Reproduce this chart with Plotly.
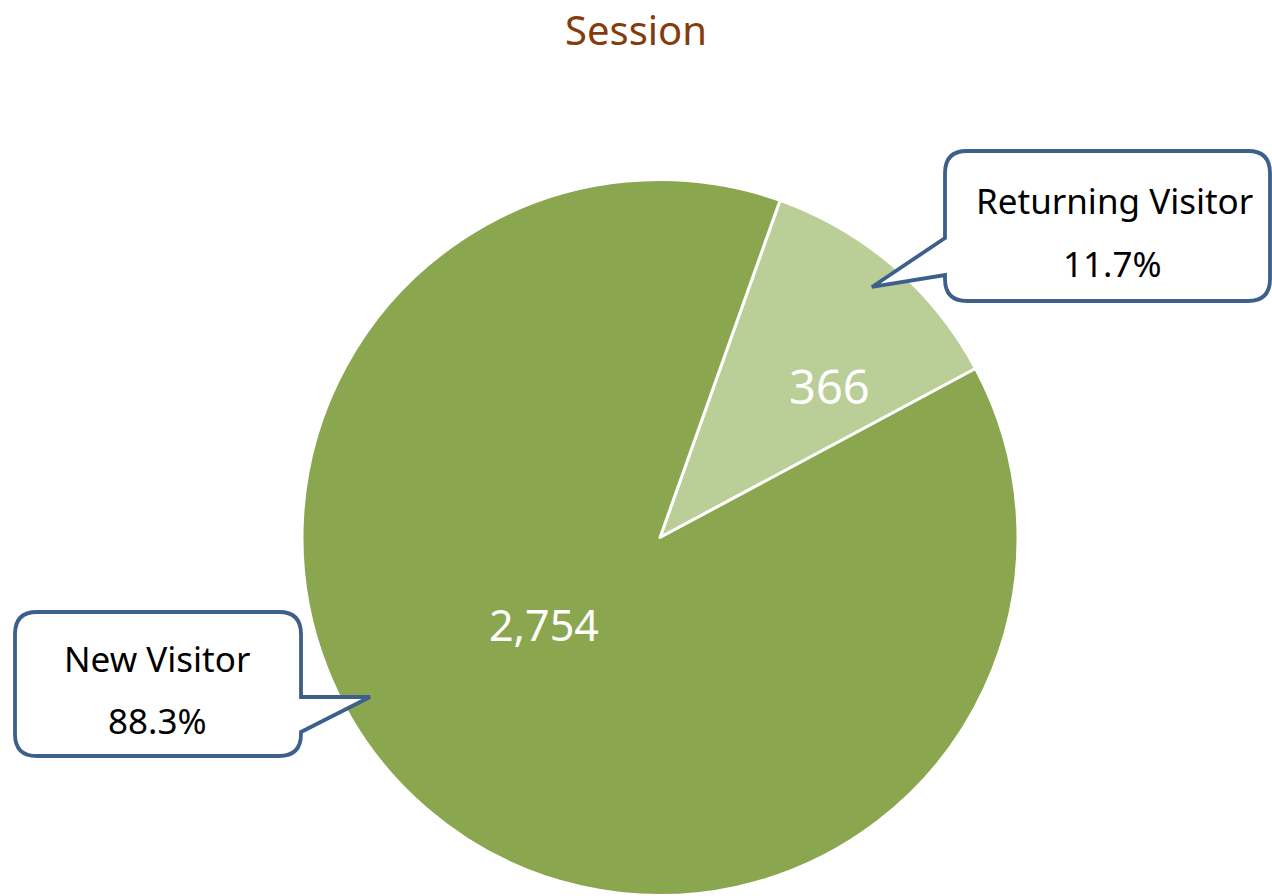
import plotly.graph_objects as go

# ---- data ----
categories = ["Returning Visitor", "New Visitor"]
sessions = [366, 2754]
slice_colors = ["#BACE98", "#8AA64F"]
title_text = "Session"

W, H = 1272, 896
total = sum(sessions)
shares = [v / total * 100 for v in sessions]
FONT = "Noto Sans"


def px(x):
    return x / W


def py(y):
    return 1 - y / H


def callout_path(left, top, right, bottom, r, side, p1, tip, p2):
    """Rounded rectangle callout with a pointer on the given side (pixel coords)."""
    pts = []
    pts.append(("M", left + r, top))
    pts.append(("L", right - r, top))
    pts.append(("Q", right, top, right, top + r))
    if side == "right":
        pts.append(("L", right, p1))
        pts.append(("L", tip[0], tip[1]))
        pts.append(("L", right, p2))
    pts.append(("L", right, bottom - r))
    pts.append(("Q", right, bottom, right - r, bottom))
    pts.append(("L", left + r, bottom))
    pts.append(("Q", left, bottom, left, bottom - r))
    if side == "left":
        pts.append(("L", left, p2))
        pts.append(("L", tip[0], tip[1]))
        pts.append(("L", left, p1))
    pts.append(("L", left, top + r))
    pts.append(("Q", left, top, left + r, top))
    s = ""
    for p in pts:
        cmd = p[0]
        coords = p[1:]
        parts = []
        for i in range(0, len(coords), 2):
            parts.append(f"{px(coords[i]):.5f},{py(coords[i+1]):.5f}")
        s += cmd + " " + " ".join(parts) + " "
    return s + "Z"


fig = go.Figure()
fig.add_trace(go.Pie(
    labels=categories,
    values=sessions,
    sort=False,
    direction="clockwise",
    rotation=19.6,
    marker=dict(colors=slice_colors, line=dict(color="white", width=3)),
    textinfo="none",
    hoverinfo="label+value+percent",
    showlegend=False,
    domain=dict(x=[px(302), px(1018)], y=[py(896), py(179)]),
))

border = "#3C5F8C"
shapes = [
    dict(type="path", xref="paper", yref="paper",
         path=callout_path(945, 151, 1270, 301, 22, "left", 238, (872, 287), 275),
         line=dict(color=border, width=3.8), fillcolor="white", layer="above"),
    dict(type="path", xref="paper", yref="paper",
         path=callout_path(15, 612, 301, 756, 22, "right", 697, (370, 697), 732),
         line=dict(color=border, width=3.8), fillcolor="white", layer="above"),
]


def ann(text, x, y, size, color):
    return dict(text=text, x=px(x), y=py(y), xref="paper", yref="paper",
                xanchor="center", yanchor="middle", showarrow=False,
                font=dict(size=size, color=color, family=FONT))


annotations = [
    ann(categories[0], 1114, 200, 35, "black"),
    ann(f"{shares[0]:.1f}%", 1112, 263, 35, "black"),
    ann(categories[1], 157, 658, 35, "black"),
    ann(f"{shares[1]:.1f}%", 157, 720, 35, "black"),
    ann(f"{sessions[0]:,}", 829, 386, 47, "white"),
    ann(f"{sessions[1]:,}", 544, 624, 43, "white"),
]

fig.update_layout(
    width=W, height=H,
    margin=dict(l=0, r=0, t=0, b=0),
    paper_bgcolor="white", plot_bgcolor="white",
    title=dict(text=title_text, x=0.5, xanchor="center", xref="paper",
               y=py(31), yanchor="middle",
               font=dict(size=40, color="#843C0C", family=FONT)),
    shapes=shapes,
    annotations=annotations,
)

fig.write_html("out.html", config={"displayModeBar": False},
               post_script="document.body.style.margin='0';document.body.style.overflow='hidden';")
